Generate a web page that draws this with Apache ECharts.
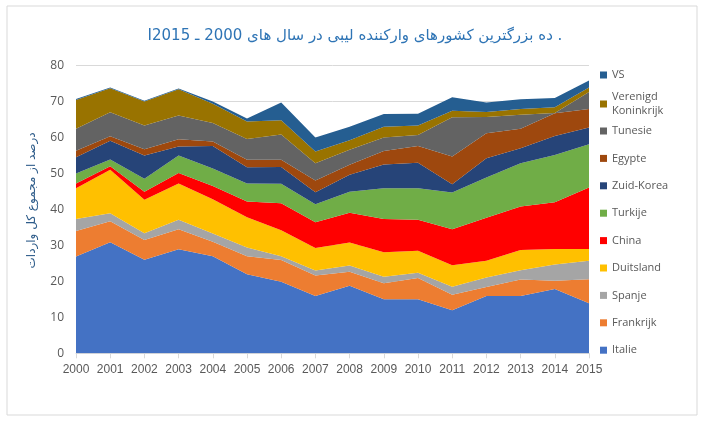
<!DOCTYPE html>
<html>
<head>
<meta charset="utf-8">
<script src="https://cdn.jsdelivr.net/npm/echarts@6/dist/echarts.min.js"></script>
<style>
html,body{margin:0;padding:0;background:#fff;}
#c{width:710px;height:428px;}
</style>
</head>
<body>
<div id="c"></div>
<script>
const years = ['2000','2001','2002','2003','2004','2005','2006','2007','2008','2009','2010','2011','2012','2013','2014','2015'];
const yTicks = [0,10,20,30,40,50,60,70,80];
const titleText = '\u202B. ده بزرگترین کشورهای وارکننده لیبی در سال های 2000 ـ I2015\u202C';
const yAxisTitle = 'درصد از مجموع کل واردات';

const italie     = [26.9,30.9,26.0,28.9,27.0,22.0,19.9,15.9,18.8,15.0,15.0,12.0,15.9,15.9,17.9,13.9];
const frankrijk  = [7.1,5.8,5.5,5.6,4.0,5.0,6.0,5.7,3.9,4.5,5.9,4.3,2.5,4.6,2.3,6.7];
const spanje     = [3.3,2.2,1.9,2.6,2.3,2.4,1.1,1.4,1.7,1.8,1.5,2.2,2.7,2.6,4.5,5.1];
const duitsland  = [8.6,12.1,9.3,10.1,9.5,8.4,7.2,6.3,6.4,6.8,6.1,6.0,4.6,5.6,4.3,3.3];
const china      = [1.3,1.0,2.2,2.9,3.7,4.4,7.5,7.1,8.3,9.2,8.6,10.0,12.0,12.1,13.0,17.1];
const turkije    = [2.8,1.9,3.6,4.9,4.9,5.0,5.4,5.0,5.8,8.6,8.8,10.2,11.2,12.0,13.1,12.0];
const zuidKorea  = [4.5,5.2,6.5,2.5,6.2,4.5,4.7,3.4,4.7,6.6,7.1,2.3,5.3,4.2,5.3,4.7];
const egypte     = [1.8,1.2,1.7,2.0,1.3,2.1,2.0,3.2,2.8,3.7,4.6,7.7,7.0,5.4,6.3,5.1];
const tunesie    = [6.1,6.7,6.6,6.6,5.1,5.8,7.0,4.8,4.2,3.8,3.1,10.9,4.5,3.9,0.1,4.7];
const verenigdK  = [8.0,6.7,6.7,7.3,5.4,4.8,4.0,3.3,2.6,3.0,2.6,1.8,1.4,1.6,1.6,1.3];
const vs         = [0.3,0.2,0.2,0.2,0.6,0.9,4.9,3.9,3.8,3.5,3.3,3.8,2.6,2.7,2.6,1.9];

const seriesDefs = [
  ['Italie', italie, '#4472C4'],
  ['Frankrijk', frankrijk, '#ED7D31'],
  ['Spanje', spanje, '#A5A5A5'],
  ['Duitsland', duitsland, '#FFC000'],
  ['China', china, '#FF0000'],
  ['Turkije', turkije, '#70AD47'],
  ['Zuid-Korea', zuidKorea, '#264478'],
  ['Egypte', egypte, '#9E480E'],
  ['Tunesie', tunesie, '#636363'],
  ['Verenigd Koninkrijk', verenigdK, '#997300'],
  ['VS', vs, '#255E91']
];

const chart = echarts.init(document.getElementById('c'), null, {renderer:'canvas'});
const legendText = {color:'#595959', fontSize:11, fontFamily:'Open Sans, Noto Sans, sans-serif', lineHeight:14};
const legendBase = {orient:'vertical', left:600, padding:0, itemWidth:7, itemHeight:7, icon:'rect', itemGap:13.4, textStyle:legendText, selectedMode:false};

const option = {
  animation:false,
  backgroundColor:'#fff',
  color: seriesDefs.map(d=>d[2]),
  title:{
    text:titleText, left:'center', top:24,
    textStyle:{color:'#2E74B5', fontSize:15, fontWeight:'normal', fontFamily:'DejaVu Sans, Noto Sans, sans-serif'}
  },
  graphic:[{type:'rect', shape:{x:7,y:6,width:690,height:409}, style:{fill:'none', stroke:'#d9d9d9', lineWidth:1}, silent:true, z:-1}],
  legend:[
    Object.assign({}, legendBase, {top:68, data:['VS']}),
    Object.assign({}, legendBase, {top:83, data:[{name:'Verenigd Koninkrijk', textStyle:Object.assign({}, legendText, {padding:[14,0,0,0]})}],
      formatter:function(n){return n.replace(' ', '\n');}}),
    Object.assign({}, legendBase, {top:124, data:['Tunesie','Egypte','Zuid-Korea','Turkije','China','Duitsland','Spanje','Frankrijk','Italie']})
  ],
  grid:{left:76, right:121, top:65.5, bottom:74.7, containLabel:false},
  xAxis:{
    type:'category', data:years, boundaryGap:false,
    axisLine:{lineStyle:{color:'#d9d9d9'}},
    axisTick:{show:true, length:5, interval:0, lineStyle:{color:'#d9d9d9'}},
    axisLabel:{color:'#595959', fontSize:12, margin:10, interval:0, hideOverlap:false, fontFamily:'Liberation Sans, Arimo, sans-serif'}
  },
  yAxis:{
    type:'value', min:yTicks[0], max:yTicks[yTicks.length-1], interval:10,
    name:yAxisTitle, nameLocation:'middle', nameGap:38, nameRotate:90,
    nameTextStyle:{color:'#2E5C8A', fontSize:12, fontFamily:'DejaVu Sans, sans-serif', padding:[0,0,0,18]},
    axisLine:{show:false}, axisTick:{show:false},
    splitLine:{lineStyle:{color:'#d9d9d9'}},
    axisLabel:{color:'#595959', fontSize:12, margin:12, fontFamily:'Open Sans, Noto Sans, sans-serif'}
  },
  series: seriesDefs.map(d=>({
    name:d[0], type:'line', stack:'total', data:d[1],
    symbol:'none', smooth:false,
    lineStyle:{width:0},
    areaStyle:{color:d[2], opacity:1},
    itemStyle:{color:d[2]}
  }))
};
chart.setOption(option);
</script>
</body>
</html>
